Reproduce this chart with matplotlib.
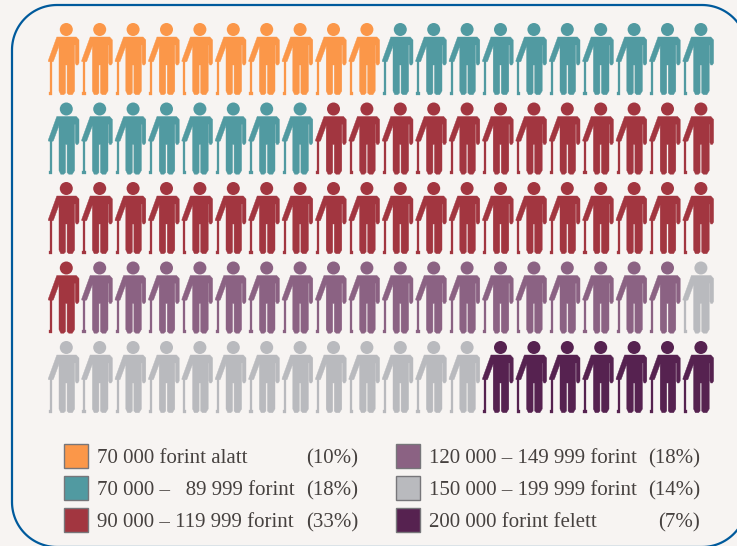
import matplotlib
matplotlib.use('Agg')
import numpy as np
import matplotlib.pyplot as plt
from matplotlib.patches import Circle, Polygon, Rectangle

plt.rcParams['font.family'] = ['Liberation Serif', 'DejaVu Serif']

categories = ['70 000 forint alatt', '70 000 –   89 999 forint', '90 000 – 119 999 forint',
              '120 000 – 149 999 forint', '150 000 – 199 999 forint', '200 000 forint felett']
shares = [10, 18, 33, 18, 14, 7]
colors = ['#fb9749', '#519aa1', '#a23640', '#8b6283', '#b9babe', '#562250']
per_row = 20

bg = '#f7f4f2'
fig = plt.figure(figsize=(7.37, 5.46), dpi=100, facecolor=bg)
ax = fig.add_axes([0, 0, 1, 1])
ax.set_xlim(0, 737)
ax.set_ylim(546, 0)
ax.axis('off')

# outline, runs off the right and bottom edge
left, top, right, bottom, r = 12, 5, 747, 547, 45
t = np.linspace(0, np.pi / 2, 30)
xs = np.concatenate([left + r - r * np.cos(t), right - r + r * np.sin(t),
                     right - r + r * np.cos(t), left + r - r * np.sin(t)])
ys = np.concatenate([top + r - r * np.sin(t), top + r - r * np.cos(t),
                     bottom - r + r * np.sin(t), bottom - r + r * np.cos(t)])
ax.add_patch(Polygon(np.column_stack([xs, ys]), closed=True, fc='none', ec='#005a9c', lw=1.6))

# one person, x relative to head centre, y from the top of the head
body = [(-9.5, 14), (10, 14), (12.7, 17), (12.7, 40), (11.5, 42), (9.9, 42), (9, 40), (9, 22),
        (8.3, 22), (8.3, 68), (6, 71.7), (2.5, 71.7), (0.8, 70), (0.8, 42), (-0.8, 42), (-0.8, 70),
        (-2.5, 71.7), (-5.5, 71.7), (-7.3, 68), (-7.3, 23), (-13, 38.5), (-15, 39), (-18, 38.5), (-18, 37.5)]
cane = [(-16.5, 38), (-14.4, 38), (-14.4, 68.5), (-14, 68.5), (-14, 71.7), (-17.3, 71.7),
        (-17.3, 68.5), (-16.5, 68.5)]

def person(x, y, c):
    ax.add_patch(Circle((x, y + 6.5), 6.5, fc=c, ec='none'))
    ax.add_patch(Polygon([(x + a, y + b) for a, b in body], fc=c, ec=c, lw=0.3))
    ax.add_patch(Polygon([(x + a, y + b) for a, b in cane], fc=c, ec=c, lw=0.2))

people = [colors[i] for i, n in enumerate(shares) for _ in range(n)]
for i, c in enumerate(people):
    row, col = divmod(i, per_row)
    person(66.3 + col * 33.4, 23 + row * 79.5, c)

# legend
for i, (name, share, c) in enumerate(zip(categories, shares, colors)):
    col, row = divmod(i, 3)
    x = 64 + col * 332
    y = 443.5 + row * 32
    ax.add_patch(Rectangle((x + 0.5, y), 24, 24, fc=c, ec='#77767a', lw=1))
    ax.text(x + 33, y + 19.5, name, fontsize=15, color='#46413f', va='baseline', ha='left')
    ax.text(358 + col * 342, y + 19.5, f'({share}%)', fontsize=15, color='#46413f', va='baseline', ha='right')

fig.savefig('out.png', dpi=100, facecolor=bg)
